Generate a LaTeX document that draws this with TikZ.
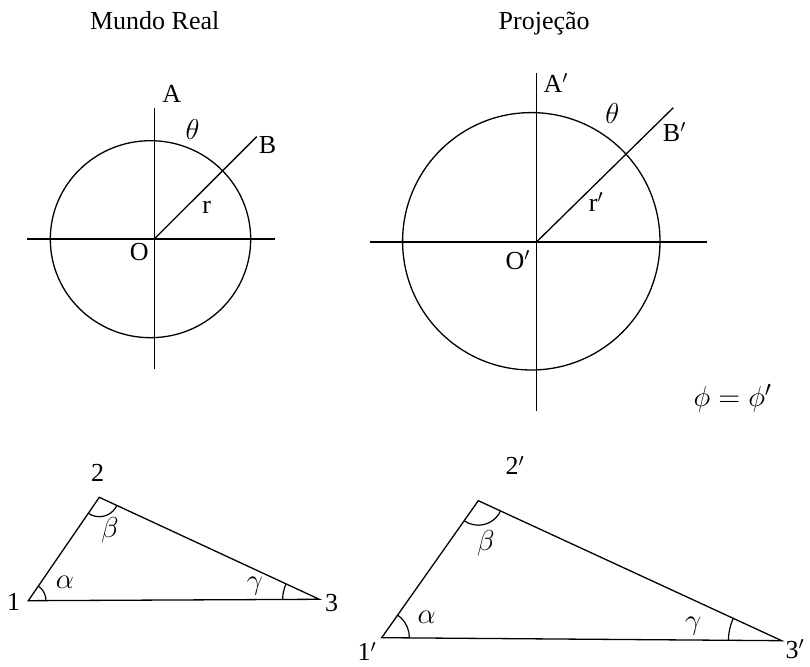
\documentclass[tikz,border=0pt]{standalone}
\usepackage{fontspec}
\setmainfont{Liberation Serif}
\begin{document}
\begin{tikzpicture}[x=0.5pt,y=-0.5pt, line width=0.65pt,
  lbl/.style={inner sep=0pt, font=\fontsize{13}{15}\selectfont},
  glbl/.style={inner sep=0pt, font=\fontsize{15.5}{17}\selectfont},
  arcline/.style={line width=0.6pt}]
\useasboundingbox (0,0) rectangle (810,667);
% titles
\node[lbl, anchor=base] (tMR) at (154.7,30) {Mundo Real};
\node[lbl, anchor=base] (tPJ) at (544.2,30) {Projeção};
% ---- left circle (real world)
\coordinate (O) at (154.3,239);
\coordinate (hL) at (26.7,239);
\coordinate (hR) at (275,239);
\coordinate (vT) at (154.3,107.7);
\coordinate (vB) at (154.3,369.3);
\coordinate (B) at (256.7,136.7);
\draw (150.5,239.2) ellipse [x radius=100.2, y radius=98.5];
\draw (hL) -- (hR);
\draw (vT) -- (vB);
\draw (O) -- (B);
\node[lbl, anchor=base] (lA) at (171.7,102.7) {A};
\node[glbl, anchor=base] (lth) at (192.7,139.3) {$\theta$};
\node[lbl, anchor=base west] (lB) at (258.3,153.3) {B};
\node[lbl, anchor=base] (lr) at (206.7,213.3) {r};
\node[lbl, anchor=base] (lO) at (139.2,260.7) {O};
% ---- right circle (projection)
\coordinate (O2) at (536.5,242);
\coordinate (hL2) at (370,242);
\coordinate (hR2) at (706.7,242);
\coordinate (vT2) at (536.5,73.3);
\coordinate (vB2) at (536.5,411);
\coordinate (B2) at (673.3,107.7);
\draw (531.3,241.3) ellipse [x radius=128.7, y radius=128.7];
\draw (hL2) -- (hR2);
\draw (vT2) -- (vB2);
\draw (O2) -- (B2);
\node[lbl, anchor=base west] (lA2) at (543,92.7) {A$'$};
\node[glbl, anchor=base] (lth2) at (612.3,124) {$\theta$};
\node[lbl, anchor=base west] (lB2) at (662.3,141.7) {B$'$};
\node[lbl, anchor=base west] (lr2) at (588.3,211.7) {r$'$};
\node[lbl, anchor=base west] (lO2) at (505,269.3) {O$'$};
\node[glbl, anchor=base west] (eq) at (693,407) {$\phi = \phi'$};
% ---- left triangle
\coordinate (P1) at (28.3,600.7);
\coordinate (P2) at (99.3,497.3);
\coordinate (P3) at (319.3,599.3);
\draw[line join=miter] (P1) -- (P2) -- (P3) -- cycle;
\begin{scope}
\clip (P1) -- (P2) -- (P3) -- cycle;
\draw[arcline] (P1) circle [radius=8.85pt];
\draw[arcline] (P2) circle [radius=9.7pt];
\draw[arcline] (P3) circle [radius=18.3pt];
\end{scope}
\node[lbl, anchor=base] (l1) at (13.5,611) {1};
\node[lbl, anchor=base] (l2) at (97.5,481.7) {2};
\node[lbl, anchor=base] (l3) at (331.7,611.7) {3};
\node[glbl, anchor=base] (la) at (65,588.3) {$\alpha$};
\node[glbl, anchor=base] (lb) at (110,537.3) {$\beta$};
\node[glbl, anchor=base] (lg) at (255,590) {$\gamma$};
% ---- right triangle
\coordinate (Q1) at (381.7,637.7);
\coordinate (Q2) at (478.3,500.7);
\coordinate (Q3) at (781.7,640.7);
\draw[line join=miter] (Q1) -- (Q2) -- (Q3) -- cycle;
\begin{scope}
\clip (Q1) -- (Q2) -- (Q3) -- cycle;
\draw[arcline] (Q1) circle [radius=13.85pt];
\draw[arcline] (Q2) circle [radius=12.25pt];
\draw[arcline] (Q3) circle [radius=26.65pt];
\end{scope}
\node[lbl, anchor=base west] (l1b) at (357,661) {1$'$};
\node[lbl, anchor=base west] (l2b) at (505,475) {2$'$};
\node[lbl, anchor=base west] (l3b) at (785,658.3) {3$'$};
\node[glbl, anchor=base] (lab) at (426.7,624) {$\alpha$};
\node[glbl, anchor=base] (lbb) at (486,550.7) {$\beta$};
\node[glbl, anchor=base] (lgb) at (693.3,630) {$\gamma$};
\end{tikzpicture}
\end{document}
